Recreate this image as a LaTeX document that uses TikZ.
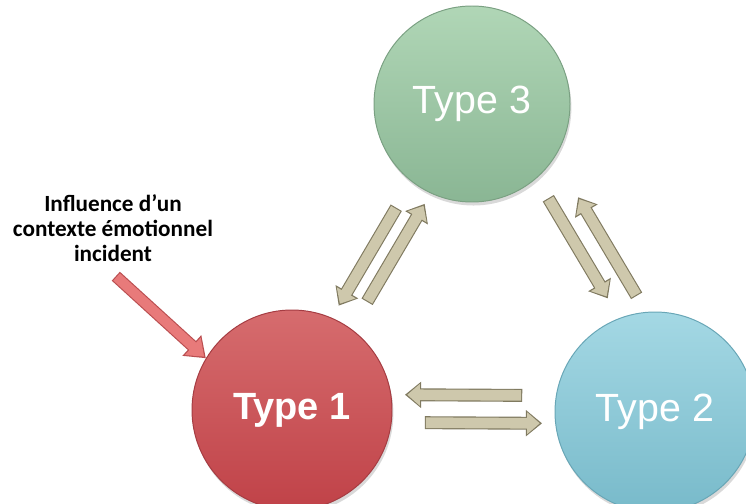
\documentclass[tikz,border=0pt]{standalone}
\usepackage{fontspec}
\setmainfont{Liberation Sans}
\newfontfamily\notefont{Carlito}
\usetikzlibrary{calc,arrows.meta,shadows}

\definecolor{greentop}{RGB}{176,214,182}
\definecolor{greenbot}{RGB}{138,182,148}
\definecolor{greenedge}{RGB}{122,160,130}
\definecolor{redtop}{RGB}{214,108,110}
\definecolor{redbot}{RGB}{192,66,72}
\definecolor{rededge}{RGB}{165,60,66}
\definecolor{bluetop}{RGB}{164,216,228}
\definecolor{bluebot}{RGB}{120,186,202}
\definecolor{blueedge}{RGB}{104,166,182}
\definecolor{arrowfill}{RGB}{206,200,172}
\definecolor{arrowedge}{RGB}{128,122,96}
\definecolor{pinkfill}{RGB}{232,122,122}
\definecolor{pinkedge}{RGB}{186,78,80}

\begin{document}
\begin{tikzpicture}[
    typecircle/.style={shape=circle,minimum size=5cm,inner sep=0pt,line width=0.7pt,
      text=white,font=\fontsize{28}{32}\selectfont,
      drop shadow={shadow xshift=1pt,shadow yshift=-2.5pt,opacity=0.3}},
    fatarrow/.style={line width=7.6pt,draw=arrowfill,-{Triangle[width=15pt,length=9pt]},
      shorten >=1.6pt,shorten <=0.8pt,
      preaction={draw=arrowedge,line width=9.2pt,-{Triangle[width=18pt,length=11.5pt]},
        shorten >=0pt,shorten <=0pt}},
    pinkarrow/.style={line width=7pt,draw=pinkfill,-{Triangle[width=16pt,length=11pt]},
      shorten >=1.6pt,shorten <=0.8pt,
      preaction={draw=pinkedge,line width=8.6pt,-{Triangle[width=19pt,length=13.5pt]},
        shorten >=0pt,shorten <=0pt}}
  ]
    \useasboundingbox (0,0) rectangle (18.65,12.575);

    % circles
    \node[typecircle,minimum size=4.9cm,top color=greentop,bottom color=greenbot,draw=greenedge] (t3) at (11.8,9.975) {Type 3};
    \node[typecircle,top color=redtop,bottom color=redbot,draw=rededge,font=\fontsize{27}{32}\selectfont\bfseries] (t1) at (7.3,2.325) {Type 1};
    \node[typecircle,top color=bluetop,bottom color=bluebot,draw=blueedge] (t2) at (16.375,2.275) {Type 2};

    % note
    \node[align=center,font=\notefont\bfseries\fontsize{16.5}{17.7}\selectfont] (note) at (2.825,6.875) {Influence d’un\\contexte émotionnel\\incident};

    % arrows
    \draw[fatarrow] ($(t3)!0.36!(t1)!-9pt!90:(t1)$) -- ($(t3)!0.68!(t1)!-9pt!90:(t1)$);
    \draw[fatarrow] ($(t3)!0.63!(t1)!7pt!90:(t1)$) -- ($(t3)!0.31!(t1)!7pt!90:(t1)$);
    \draw[fatarrow] ($(t3)!0.335!(t2)!12.4pt!90:(t2)$) -- ($(t3)!0.66!(t2)!12.4pt!90:(t2)$);
    \draw[fatarrow] ($(t3)!0.695!(t2)!31pt!90:(t2)$) -- ($(t3)!0.375!(t2)!31pt!90:(t2)$);
    \draw[fatarrow] ($(t1)!0.634!(t2)!11.3pt!90:(t2)$) -- ($(t1)!0.311!(t2)!11.3pt!90:(t2)$);
    \draw[fatarrow] ($(t1)!0.366!(t2)!-8.5pt!90:(t2)$) -- ($(t1)!0.689!(t2)!-8.5pt!90:(t2)$);
    \draw[pinkarrow] ([xshift=2pt,yshift=-7pt]note.south) -- (t1.149);
\end{tikzpicture}
\end{document}
